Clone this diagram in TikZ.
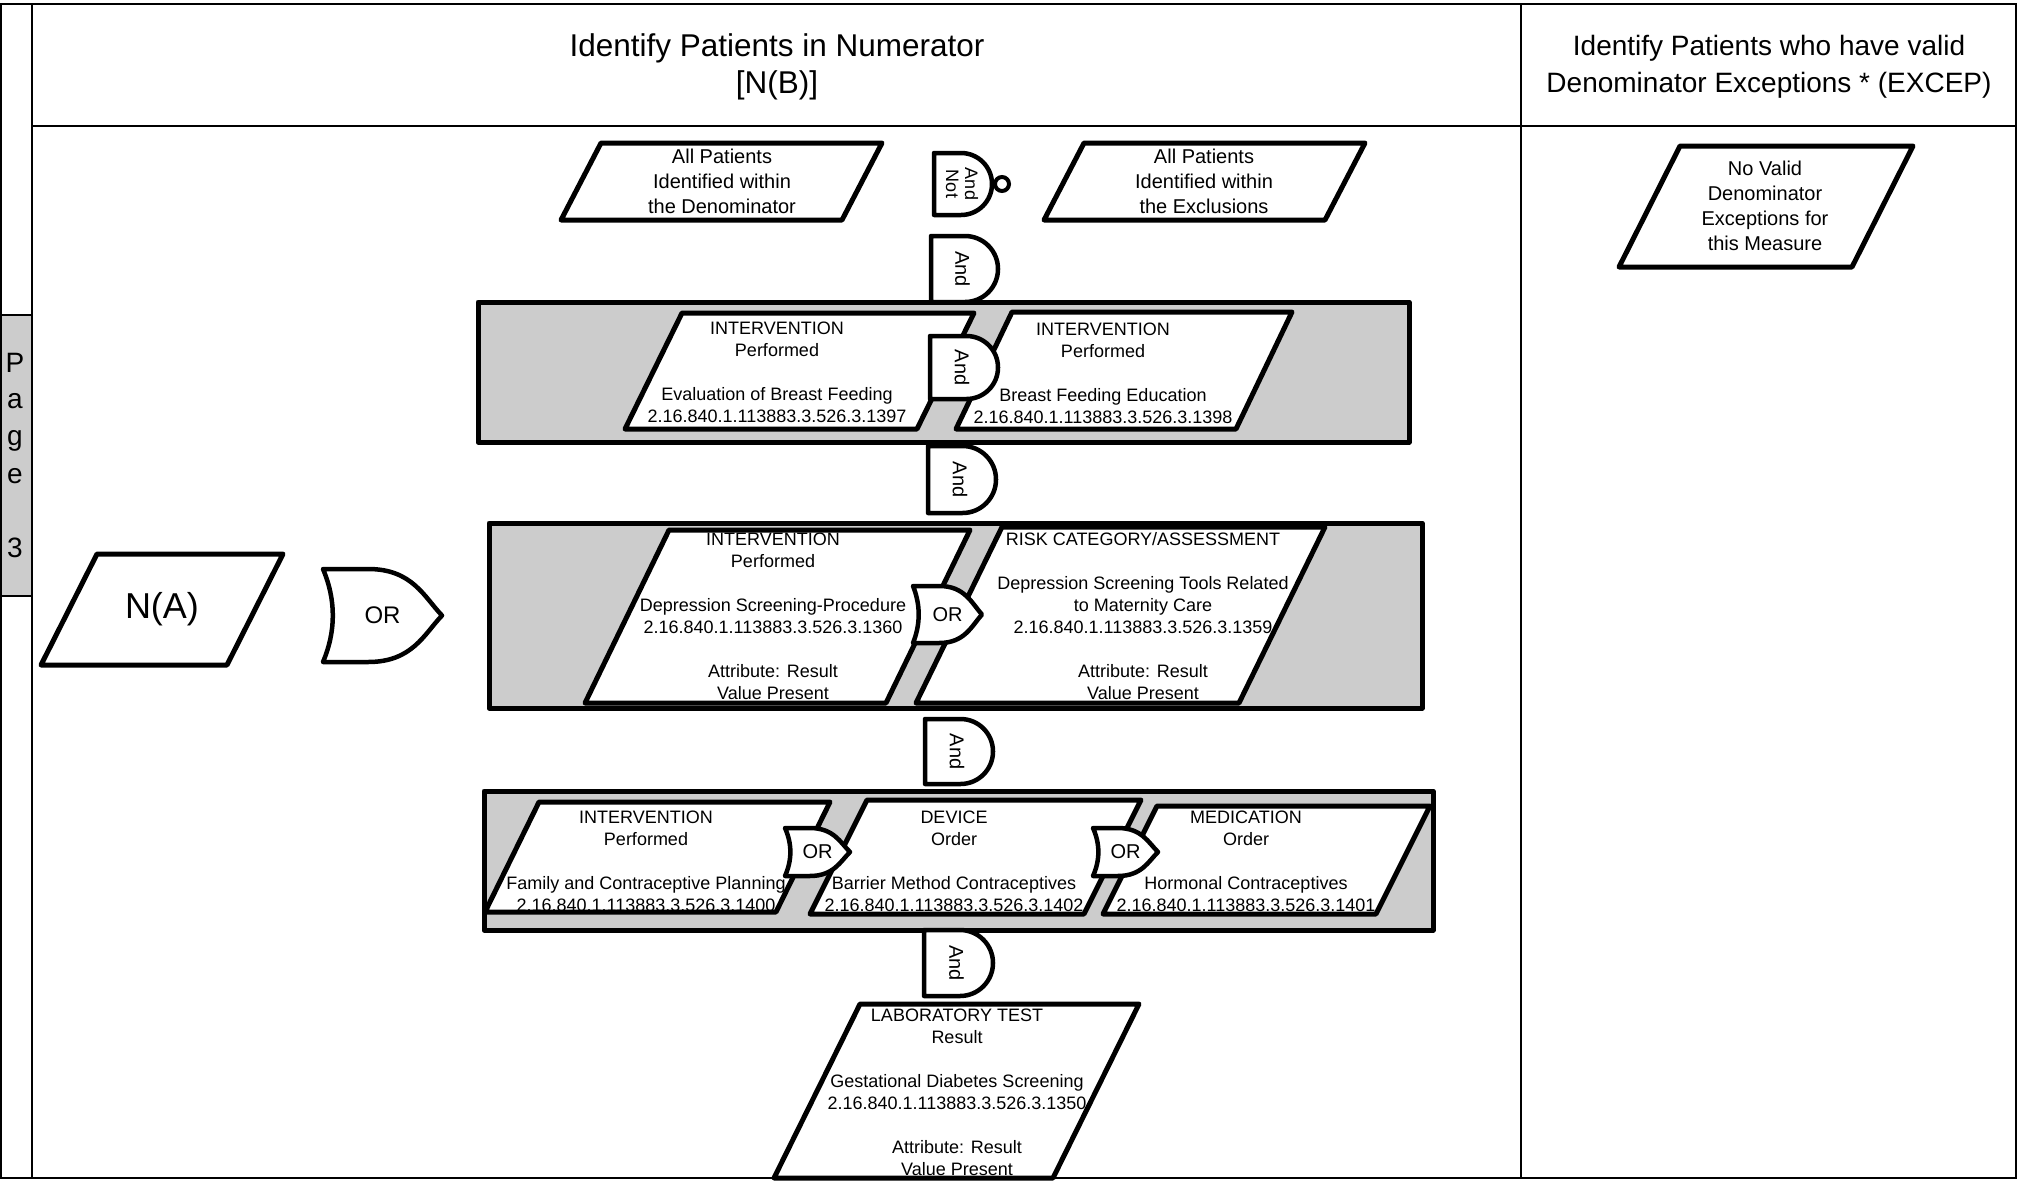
\documentclass[tikz,border=0pt]{standalone}
\usepackage{fontspec}
\setmainfont{Liberation Sans}
\definecolor{cgray}{RGB}{204,204,204}
% parallelogram: name, top-left x, top y, bottom-left x, bottom y, width
\newcommand{\pgram}[6]{%
  \draw[pbox] (#2,#3) -- ({#2+#6},#3) -- ({#4+#6},#5) -- (#4,#5) -- cycle;
  \coordinate (#1) at ({(#2+#4+#6)/2},{(#3+#5)/2});}
% and gate: name, x, y, w, h
\newcommand{\andgate}[5]{%
  \draw[gate] (#2,#3) -- ({#2+#4-#5/2},#3)
    .. controls ({#2+#4-#5/2+0.5523*#5/2},#3) and ({#2+#4},{#3+#5/2-0.5523*#5/2}) .. ({#2+#4},{#3+#5/2})
    .. controls ({#2+#4},{#3+#5/2+0.5523*#5/2}) and ({#2+#4-#5/2+0.5523*#5/2},{#3+#5}) .. ({#2+#4-#5/2},{#3+#5})
    -- (#2,{#3+#5}) -- cycle;
  \node[gtext,rotate=-90] (#1) at ({#2+#4/2-2},{#3+#5/2}) {And};}
% or gate: name, x, y, w, h, font size
\newcommand{\orgate}[6]{%
  \draw[gate] (#2,#3) -- ({#2+0.38*#4},#3)
    .. controls ({#2+0.75*#4},#3) and ({#2+0.85*#4},{#3+0.3*#5}) .. ({#2+#4},{#3+#5/2})
    .. controls ({#2+0.85*#4},{#3+0.7*#5}) and ({#2+0.75*#4},{#3+#5}) .. ({#2+0.38*#4},{#3+#5})
    -- (#2,{#3+#5})
    .. controls ({#2+0.11*#4},{#3+2*#5/3}) and ({#2+0.11*#4},{#3+#5/3}) .. (#2,#3) -- cycle;
  \node[font=\fontsize{#6}{#6}\selectfont,inner sep=0pt] (#1) at ({#2+#4/2},{#3+#5/2}) {OR};}
\begin{document}
\begin{tikzpicture}[x=1pt,y=-1pt,
  pbox/.style={draw=black,fill=white,line width=5pt,line join=round},
  cont/.style={draw=black,fill=cgray,line width=5pt,line join=round},
  gate/.style={draw=black,fill=white,line width=4.5pt,line join=round},
  frm/.style={draw=black,line width=2.5pt},
  t18/.style={font=\fontsize{18}{22}\selectfont,align=center,inner sep=0pt},
  t20/.style={font=\fontsize{20}{25}\selectfont,align=center,inner sep=0pt},
  hdr/.style={font=\fontsize{28}{37}\selectfont,align=center,inner sep=0pt},
  gtext/.style={font=\fontsize{20}{20}\selectfont,inner sep=0pt},
  pg/.style={font=\fontsize{28}{28}\selectfont,anchor=base,inner sep=0pt}]
\useasboundingbox (0,0) rectangle (2021,1183);
\fill[white] (0,0) rectangle (2021,1183);
% strip
\fill[cgray] (1,315) rectangle (32,596);
\draw[line width=1.5pt] (1,315) -- (32,315) (1,596) -- (32,596);
% frame
\draw[frm] (1,4) -- (2016,4) -- (2016,1178) -- (1,1178) -- cycle;
\draw[frm] (32,4) -- (32,1178);
\draw[line width=2pt] (32,126) -- (2016,126);
\draw[frm] (1521,4) -- (1521,1178);
% headers
\node[hdr,font=\fontsize{31.5}{37}\selectfont] (hnum) at (777,67) {Identify Patients in Numerator\\{}[N(B)]};
\node[hdr] (hexc) at (1769,67) {Identify Patients who have valid\\Denominator Exceptions * (EXCEP)};
% page label
\node[pg] (pgP) at (15,372) {P};
\node[pg] (pga) at (15,408) {a};
\node[pg] (pgg) at (15,445) {g};
\node[pg] (pge) at (15,483) {e};
\node[pg] (pg3) at (15,557) {3};
% containers
\draw[cont] (478,302) rectangle (1409,442);
\draw[cont] (489,523) rectangle (1422,708);
\draw[cont] (484,791) rectangle (1433,930);
% parallelograms
\pgram{pden}{601}{143}{561}{220}{281}
\pgram{pexc}{1084}{143}{1044}{220}{281}
\pgram{pnv}{1680}{146}{1619}{267}{233}
\pgram{pna}{97}{554}{41}{665}{186}
\pgram{pa}{682}{313}{625}{429}{292}
\pgram{pb}{1012}{312}{956}{429}{280}
\pgram{pc}{669}{530}{585}{703}{301}
\pgram{pd}{1002}{527}{916}{703}{323}
\pgram{pe}{539}{802}{485}{912}{291}
\pgram{pf}{867}{800}{810}{914}{274}
\pgram{pgm}{1157}{806}{1103}{914}{273}
\pgram{ph}{860}{1004}{774}{1178}{279}
% and gates
\andgate{g1}{931}{236}{67}{66}
\andgate{g2}{930}{336}{68}{63}
\andgate{g3}{928}{446}{68}{67}
\andgate{g4}{925}{719}{68}{65}
\andgate{g5}{924}{930}{69}{66}
% and-not gate
\draw[gate] (934,153) -- (961,153) .. controls (978.1,153) and (992,166.9) .. (992,184)
  .. controls (992,201.1) and (978.1,215) .. (961,215) -- (934,215) -- cycle;
\draw[line width=4pt] (1002,184) circle[radius=7pt];
\node[font=\fontsize{18}{19}\selectfont,align=center,rotate=-90,inner sep=0pt] (gnot) at (962,184) {And\\Not};
% or gates
\orgate{or0}{323}{569}{119}{93}{24}
\orgate{or1}{913}{586}{69}{57}{20}
\orgate{or2}{785}{828}{65}{48}{20}
\orgate{or3}{1093}{828}{65}{48}{20}
% texts
\node[t20] (tden) at (722,181) {All Patients\\Identified within\\the Denominator};
\node[t20] (texc) at (1204,181) {All Patients\\Identified within\\the Exclusions};
\node[t20] (tnv) at (1765,206) {No Valid\\Denominator\\Exceptions for\\this Measure};
\node[font=\fontsize{36}{36}\selectfont,inner sep=0pt] (tna) at (162,609) {N(A)};
\node[t18] (ta) at (777,372) {INTERVENTION\\Performed\\[22pt]Evaluation of Breast Feeding\\2.16.840.1.113883.3.526.3.1397};
\node[t18] (tb) at (1103,373) {INTERVENTION\\Performed\\[22pt]Breast Feeding Education\\2.16.840.1.113883.3.526.3.1398};
\node[t18] (tc) at (773,616) {INTERVENTION\\Performed\\[22pt]Depression Screening-Procedure\\2.16.840.1.113883.3.526.3.1360\\[22pt]Attribute: Result\\Value Present};
\node[t18] (td) at (1143,616) {RISK CATEGORY/ASSESSMENT\\[22pt]Depression Screening Tools Related\\to Maternity Care\\2.16.840.1.113883.3.526.3.1359\\[22pt]Attribute: Result\\Value Present};
\node[t18] (te) at (646,861) {INTERVENTION\\Performed\\[22pt]Family and Contraceptive Planning\\2.16.840.1.113883.3.526.3.1400};
\node[t18] (tf) at (954,861) {DEVICE\\Order\\[22pt]Barrier Method Contraceptives\\2.16.840.1.113883.3.526.3.1402};
\node[t18] (tg) at (1246,861) {MEDICATION\\Order\\[22pt]Hormonal Contraceptives\\2.16.840.1.113883.3.526.3.1401};
\node[t18] (th) at (957,1092) {LABORATORY TEST\\Result\\[22pt]Gestational Diabetes Screening\\2.16.840.1.113883.3.526.3.1350\\[22pt]Attribute: Result\\Value Present};
\end{tikzpicture}
\end{document}
